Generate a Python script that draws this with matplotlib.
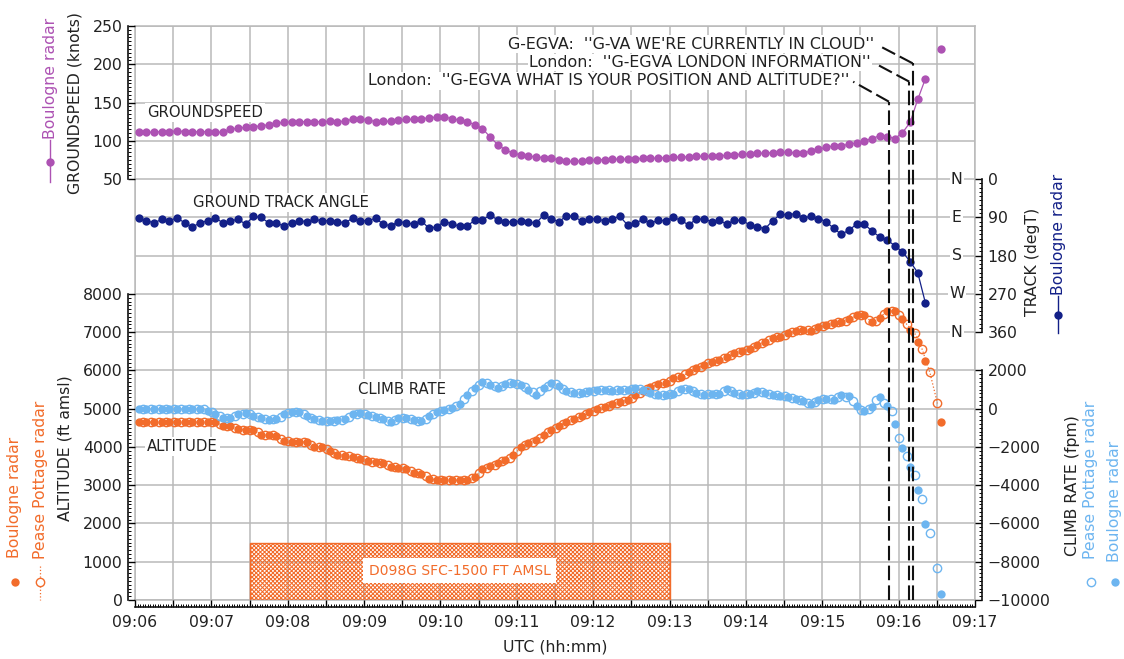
import numpy as np
import matplotlib
matplotlib.use("Agg")
import matplotlib.pyplot as plt
from matplotlib.lines import Line2D
from matplotlib.patches import Rectangle
from matplotlib.ticker import MultipleLocator, FixedLocator, FuncFormatter

plt.rcParams['font.family'] = ['DejaVu Sans']
plt.rcParams['hatch.linewidth'] = 0.75
nan = np.nan

# ---------------- data (time = seconds after 09:06:00 UTC) ----------------
SWEEP = 6.0
boulogne_t = 3.0 + SWEEP * np.arange(106)
pease_t = 6.5 + SWEEP * np.arange(105)

groundspeed = [112, 111, 111.5, 112, 112, 113, 112, 111.5, 112, 112,
               111.5, 111, 115, 116.5, 117.5, 118.5, 119.5, 121, 123, 124,
               125, 125, 125, 125, 125, 125.5, 124.5, 126, 128, 128,
               127.5, 125, 125.5, 125.5, 127.5, 128, 128, 129, 130, 131,
               131, 129, 127, 125, 121, 116, 105, 95, 88, 84,
               81.5, 80, 79, 78, 77, 75, 73, 73, 74, 74.5,
               75, 75.5, 76, 76, 76, 76.5, 77, 77, 77.5, 78,
               78.5, 79, 79, 79.5, 80, 80, 80.5, 81, 82, 82.5,
               83, 83.5, 84, 84.5, 85, 85, 84, 83.6, 87, 89,
               91.5, 93.5, 93.5, 95.5, 97.5, 100, 103, 106.5, 105.5, 103,
               110.5, 124, 154, 181, nan, 220]

track = [92, 98, 103, 95, 98, 91, 103, 113, 103, 98,
         91, 103, 98, 95, 106, 88, 90, 103, 104, 110,
         103, 98, 100, 95, 98, 98, 100, 103, 92, 98,
         98, 92, 106, 110, 100, 103, 106, 98, 116, 112,
         100, 105, 111, 110, 97, 96, 85, 96, 101, 100,
         99, 100, 104, 85, 93, 101, 86, 88, 99, 93,
         94, 98, 93, 88, 108, 104, 95, 104, 97, 98,
         90, 97, 108, 94, 94, 100, 97, 106, 97, 97,
         108, 112, 117, 98, 83, 84, 81, 91, 88, 93,
         100, 116, 130, 120, 106, 106, 122, 136, 143, 157,
         171, 194, 220, 291]

alt_boulogne = [4650, 4650, 4650, 4650, 4650, 4650, 4650, 4650, 4650, 4650,
                4640, 4560, 4550, 4460, 4450, 4440, 4320, 4300, 4290, 4150,
                4140, 4140, 4130, 4000, 3990, 3900, 3800, 3770, 3750, 3690,
                3620, 3600, 3580, 3480, 3450, 3430, 3330, 3300, 3170, 3140,
                3130, 3130, 3130, 3136, 3222, 3420, 3490, 3580, 3670, 3780,
                4000, 4110, 4170, 4300, 4450, 4550, 4660, 4740, 4800, 4900,
                4980, 5040, 5110, 5170, 5226, 5350, 5470, 5570, 5644, 5670,
                5795, 5840, 5950, 6054, 6150, 6230, 6275, 6360, 6445, 6520,
                6550, 6670, 6755, 6840, 6885, 6968, 7040, 7055, 7040, 7145,
                7186, 7246, 7273, 7334, 7447, 7447, 7273, 7380, 7560, 7540,
                7350, 7060, 6740, 6253, nan, 4660]

alt_pease = [4650, 4650, 4650, 4650, 4650, 4650, 4650, 4650, 4650, 4650,
             4600, 4560, 4500, 4450, 4450, 4380, 4310, 4300, 4220, 4150,
             4140, 4130, 4060, 4000, 3950, 3850, 3790, 3760, 3720, 3660,
             3610, 3590, 3530, 3470, 3440, 3380, 3320, 3240, 3150, 3130,
             3130, 3130, 3130, 3180, 3320, 3450, 3530, 3620, 3720, 3890,
             4050, 4140, 4230, 4380, 4500, 4610, 4700, 4770, 4850, 4940,
             5010, 5080, 5140, 5200, 5290, 5410, 5520, 5600, 5660, 5730,
             5820, 5900, 6000, 6100, 6190, 6250, 6320, 6400, 6480, 6530,
             6610, 6710, 6800, 6860, 6930, 7000, 7050, 7050, 7090, 7160,
             7210, 7260, 7300, 7390, 7447, 7330, 7300, 7480, 7560, 7450,
             7200, 6980, 6550, 5950, 5139]

climb_boulogne = [0, 0, 0, 0, 0, 0, 0, 0, 0, -100,
                  -300, -480, -470, -300, -220, -380, -500, -600, -520, -300,
                  -150, -170, -400, -550, -650, -650, -580, -560, -300, -220,
                  -350, -420, -560, -680, -500, -500, -580, -650, -400, -150,
                  -50, 50, 250, 700, 1100, 1400, 1260, 1100, 1300, 1340,
                  1250, 980, 740, 1080, 1340, 1200, 900, 820, 820, 906,
                  950, 990, 910, 990, 950, 1080, 1000, 820, 732, 732,
                  780, 1030, 1030, 820, 732, 780, 770, 1030, 820, 732,
                  770, 906, 800, 732, 680, 610, 505, 383, 261, 470,
                  505, 470, 732, 645, 122, -140, 87, 610, 122, -784,
                  -2055, -3048, -4233, -6010, nan, -9668]

climb_pease = [0, 0, 0, 0, 0, 0, 0, 0, 0, -200,
               -400, -480, -380, -260, -300, -450, -550, -560, -420, -220,
               -160, -300, -480, -600, -650, -620, -570, -430, -260, -290,
               -390, -500, -620, -590, -500, -540, -620, -520, -270, -100,
               0, 150, 480, 900, 1250, 1330, 1180, 1200, 1320, 1300,
               1110, 860, 910, 1200, 1270, 1050, 860, 820, 860, 930,
               970, 950, 950, 970, 1010, 1040, 910, 780, 732, 760,
               900, 1030, 930, 780, 760, 780, 900, 930, 780, 750,
               840, 850, 770, 710, 650, 560, 440, 320, 370, 490,
               490, 600, 600, 418, -50, 0, 450, 300, -140, -1532,
               -2491, -3449, -4720, -6497, -8326]

compass_labels = ['N', 'E', 'S', 'W', 'N']
compass_deg = [0, 90, 180, 270, 360]

atc_messages = ["London:  ''G-EGVA WHAT IS YOUR POSITION AND ALTITUDE?''",
                "London:  ''G-EGVA LONDON INFORMATION''",
                "G-EGVA:  ''G-VA WE'RE CURRENTLY IN CLOUD''"]
atc_times = [592.4, 608.4, 611.0]

# ---------------- styling ----------------
PURPLE = '#ad52b3'
NAVY = '#132088'
ORANGE = '#f26c2b'
LBLUE = '#6db5f0'
GRID = '#b9b9b9'
TXT = '#222222'

W, H = 1124, 659
fig = plt.figure(figsize=(W / 100, H / 100), dpi=100)
rect = [135 / W, 1 - 600 / H, 840 / W, 574 / H]

# base axes: grid in 15 equal units
ax = fig.add_axes(rect)
ax.set_xlim(0, 660)
ax.set_ylim(0, 15)
ax.set_yticks(range(16))
ax.xaxis.set_major_locator(MultipleLocator(30))
ax.xaxis.set_minor_locator(MultipleLocator(2))
ax.xaxis.set_major_formatter(FuncFormatter(
    lambda v, p: f"09:{6 + int(round(v)) // 60:02d}" if int(round(v)) % 60 == 0 else ""))
ax.grid(True, which='major', color=GRID, lw=1.1)
ax.tick_params(which='both', bottom=False, left=False, labelbottom=False, labelleft=False)
for s in ax.spines.values():
    s.set_color(GRID)
    s.set_linewidth(1.1)


def make_axis(side, lim, lo, hi, major, minor, bottom=False):
    a = fig.add_axes(rect, sharex=ax)
    a.patch.set_visible(False)
    a.set_ylim(*lim)
    for s in a.spines.values():
        s.set_visible(False)
    sp = a.spines[side]
    sp.set_visible(True)
    sp.set_position(('outward', 5))
    sp.set_bounds(lo, hi)
    sp.set_linewidth(1.2)
    sp.set_color('#111111')
    a.yaxis.set_ticks_position(side)
    a.set_yticks(np.arange(lo, hi + 1, major))
    a.yaxis.set_minor_locator(FixedLocator(np.arange(lo, hi + 1, minor)))
    a.tick_params(axis='y', which='major', direction='in', length=5, width=1.0,
                  labelsize=11.3, pad=4, labelcolor=TXT)
    a.tick_params(axis='y', which='minor', direction='in', length=2.5, width=0.7)
    if bottom:
        b = a.spines['bottom']
        b.set_visible(True)
        b.set_position(('outward', 5))
        b.set_linewidth(1.2)
        b.set_color('#111111')
        a.tick_params(axis='x', which='major', direction='in', length=5, width=1.0,
                      labelsize=11.3, pad=6, labelcolor=TXT, bottom=True, labelbottom=True)
        a.tick_params(axis='x', which='minor', direction='in', length=2.5, width=0.7,
                      bottom=True)
    else:
        a.tick_params(axis='x', which='both', bottom=False, labelbottom=False)
    return a


ax_alt = make_axis('left', (0, 15000), 0, 8000, 1000, 100, bottom=True)
ax_gs = make_axis('left', (-500, 250), 50, 250, 50, 5)
ax_clb = make_axis('right', (-10000, 20000), -10000, 2000, 2000, 200)
ax_trk = make_axis('right', (990, -360), 0, 360, 90, 10)

# restricted area
ax_alt.add_patch(Rectangle((90, 0), 330, 1500, facecolor='none', edgecolor=ORANGE,
                           hatch='xxxxxxxx', lw=1.0, zorder=1))
ax_alt.text(255, 760, 'D098G SFC-1500 FT AMSL', color=ORANGE, fontsize=10,
            ha='center', va='center', zorder=3,
            bbox=dict(facecolor='white', edgecolor='none', pad=4))

ms = 6.0
ax_alt.plot(boulogne_t, alt_boulogne, 'o', color=ORANGE, ms=ms, mew=0, zorder=4)
ax_alt.plot(pease_t, alt_pease, ':o', color=ORANGE, mfc='none', ms=ms, mew=1.0,
            lw=0.9, zorder=5)
ax_clb.plot(boulogne_t, climb_boulogne, 'o', color=LBLUE, ms=ms, mew=0, zorder=4)
ax_clb.plot(pease_t, climb_pease, 'o', color=LBLUE, mfc='none', ms=ms, mew=1.0, zorder=5)
ax_gs.plot(boulogne_t, groundspeed, '-o', color=PURPLE, ms=ms, mew=0, lw=0.9)
ax_trk.plot(boulogne_t[:len(track)], track, '-o', color=NAVY, ms=ms, mew=0, lw=0.9)

# overlay for annotations (grid units)
ov = fig.add_axes(rect, sharex=ax)
ov.set_ylim(0, 15)
ov.axis('off')

def u(py):
    return (600 - py) / (574 / 15)

lab_kw = dict(fontsize=10.7, color=TXT, va='center', ha='left',
              bbox=dict(facecolor='white', edgecolor='none', pad=1.5))
ov.text(9.4, u(112.5), 'GROUNDSPEED', **lab_kw)
ov.text(45.7, u(202.5), 'GROUND TRACK ANGLE', **lab_kw)
ov.text(175.6, u(389), 'CLIMB RATE', **lab_kw)
ov.text(9.4, u(446.7), 'ALTITUDE', **lab_kw)

for lab, deg in zip(compass_labels, compass_deg):
    yy = u(179 + deg / 90 * 38.27)
    ov.text(645.7, yy, lab, fontsize=11.3, color=TXT, ha='center', va='center',
            bbox=dict(facecolor='white', edgecolor='none', pad=1.0))

dash = dict(color='#111111', lw=1.5, ls=(0, (7, 2.5)))
tops = [u(101.7), u(81.7), u(63.3)]
ends = [(564.3, u(81.7)), (581.3, u(63.3)), (583.5, u(45))]
for msg, tx, top, (ex, ey) in zip(atc_messages, atc_times, tops, ends):
    ov.plot([tx, tx], [0, top], **dash)
    ov.plot([tx, ex], [top, ey], **dash)
    ov.text(ex - 3, ey + 0.02, msg, fontsize=11.4, color=TXT, ha='right', va='center',
            bbox=dict(facecolor='white', edgecolor='none', pad=1.0))

# side labels
def fx(px):
    return px / W

def fy(py):
    return 1 - py / H

side_kw = dict(rotation=90, ha='center', va='center', fontsize=11.3)
fig.text(fx(75), fy(103), 'GROUNDSPEED (knots)', color=TXT, **side_kw)
fig.text(fx(50), fy(78), 'Boulogne radar', color=PURPLE, **side_kw)
fig.add_artist(Line2D([fx(50), fx(50)], [fy(140), fy(182)], color=PURPLE, lw=1,
                      transform=fig.transFigure))
fig.add_artist(Line2D([fx(50)], [fy(162)], marker='o', color=PURPLE, ms=ms, mew=0,
                      transform=fig.transFigure))

fig.text(fx(65), fy(448), 'ALTITUDE (ft amsl)', color=TXT, **side_kw)
fig.text(fx(15), fy(497), 'Boulogne radar', color=ORANGE, **side_kw)
fig.add_artist(Line2D([fx(15)], [fy(582)], marker='o', color=ORANGE, ms=ms, mew=0,
                      transform=fig.transFigure))
fig.text(fx(40), fy(480), 'Pease Pottage radar', color=ORANGE, **side_kw)
fig.add_artist(Line2D([fx(40), fx(40)], [fy(566), fy(600)], color=ORANGE, lw=0.9, ls=':',
                      transform=fig.transFigure))
fig.add_artist(Line2D([fx(40)], [fy(582)], marker='o', color=ORANGE, mfc='white', ms=ms,
                      mew=1.0, transform=fig.transFigure))

fig.text(fx(1033), fy(262), 'TRACK (degT)', color=TXT, **side_kw)
fig.text(fx(1058), fy(234), 'Boulogne radar', color=NAVY, **side_kw)
fig.add_artist(Line2D([fx(1058), fx(1058)], [fy(296), fy(333)], color=NAVY, lw=1,
                      transform=fig.transFigure))
fig.add_artist(Line2D([fx(1058)], [fy(315)], marker='o', color=NAVY, ms=ms, mew=0,
                      transform=fig.transFigure))

fig.text(fx(1073), fy(486), 'CLIMB RATE (fpm)', color=TXT, **side_kw)
fig.text(fx(1091), fy(480), 'Pease Pottage radar', color=LBLUE, **side_kw)
fig.add_artist(Line2D([fx(1091)], [fy(582)], marker='o', color=LBLUE, mfc='white', ms=ms,
                      mew=1.0, transform=fig.transFigure))
fig.text(fx(1115), fy(501), 'Boulogne radar', color=LBLUE, **side_kw)
fig.add_artist(Line2D([fx(1115)], [fy(582)], marker='o', color=LBLUE, ms=ms, mew=0,
                      transform=fig.transFigure))

fig.text(fx(555), fy(647), 'UTC (hh:mm)', color=TXT, ha='center', va='center', fontsize=11.3)

fig.savefig('out.png', dpi=100, facecolor='white')
